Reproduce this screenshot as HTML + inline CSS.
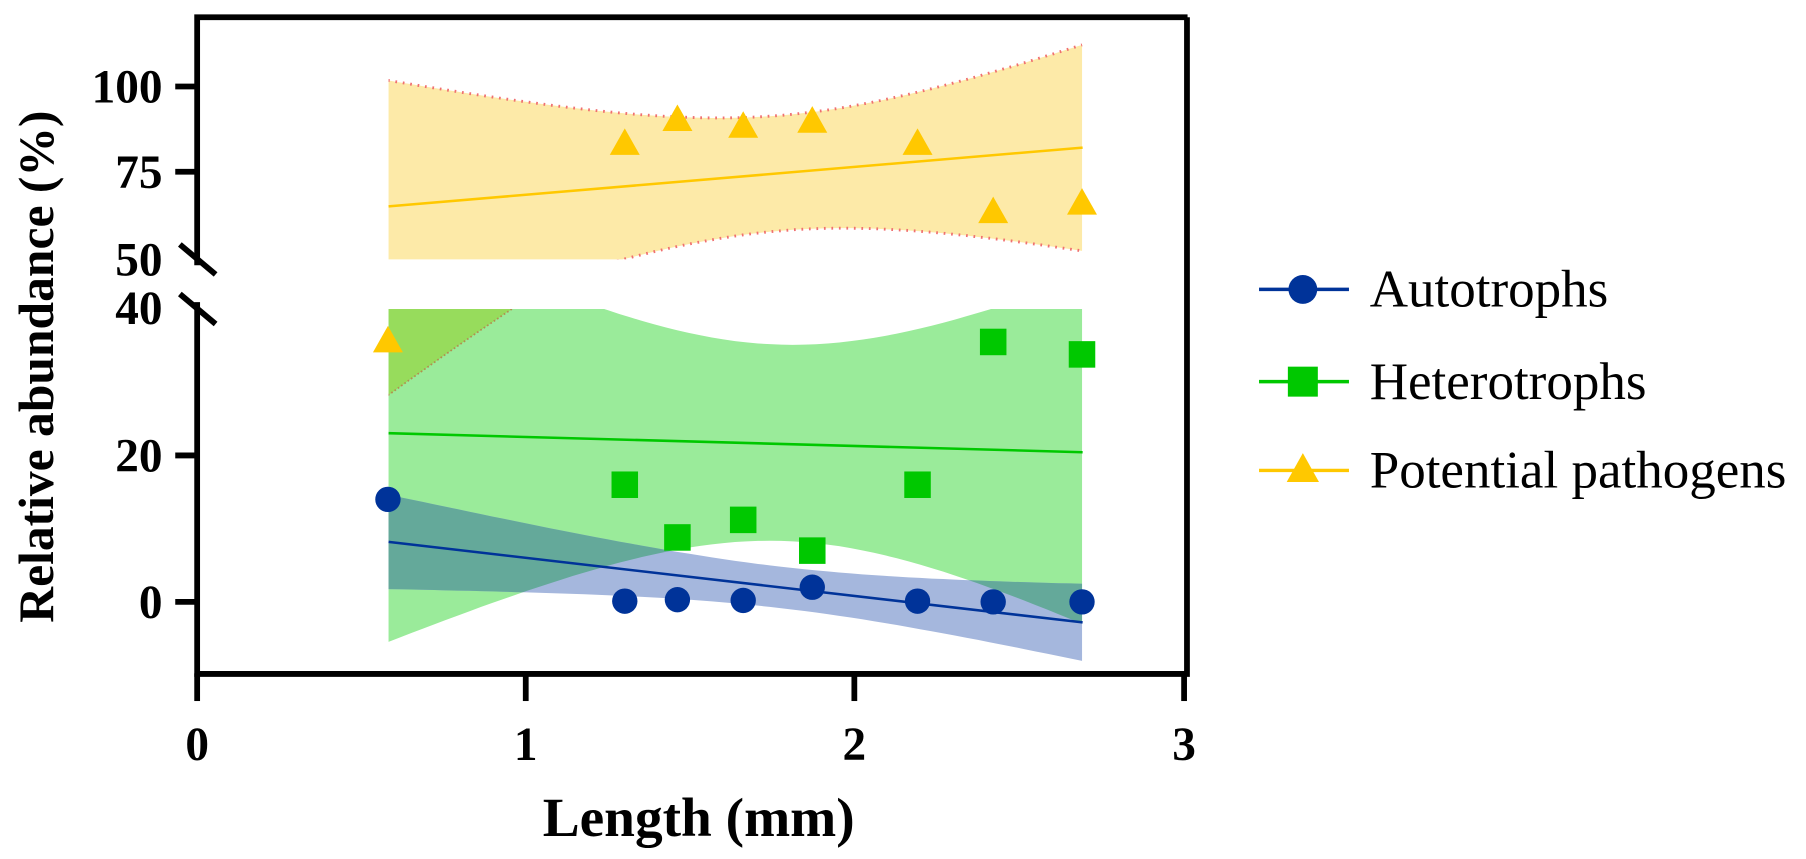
<!DOCTYPE html>
<html><head><meta charset="utf-8"><style>html,body{margin:0;padding:0;background:#fff}svg{display:block}</style></head>
<body>
<svg id="s" width="1806" height="859" viewBox="0 0 1566.4 745" preserveAspectRatio="none" xmlns="http://www.w3.org/2000/svg" font-family="Liberation Serif, serif">
<defs>
<clipPath id="cl"><rect x="337" y="268" width="602" height="330"/></clipPath>
<clipPath id="cu"><rect x="337" y="20" width="602" height="205"/></clipPath>
<clipPath id="cg"><path id="gclip"/></clipPath>
<clipPath id="cy"><path id="yclip"/></clipPath>
</defs>
<g clip-path="url(#cu)"><path id="yband" fill="#fdeaa8"/></g>
<g clip-path="url(#cl)">
<path id="gband" fill="#9aeb9a"/>
<g clip-path="url(#cy)"><rect x="337" y="268" width="602" height="330" fill="#97dc5c"/></g>
<path id="bband" fill="#a5b7dd"/>
<g clip-path="url(#cg)"><path id="bband2" fill="#64a99a"/></g>
<path id="ylow" fill="none" stroke="#b09050" stroke-width="1.5" stroke-dasharray="1.5 2"/>
</g>
<g clip-path="url(#cu)"><path id="yup" fill="none" stroke="#f07070" stroke-width="2.5" stroke-dasharray="1.5 5"/><path id="ylo" fill="none" stroke="#f07070" stroke-width="2.5" stroke-dasharray="1.5 5"/></g>
<line x1="337" y1="179" x2="939" y2="128" stroke="#ffc800" stroke-width="2.2"/>
<line x1="337" y1="375.7" x2="939" y2="392.2" stroke="#00c800" stroke-width="2.2"/>
<line x1="337" y1="470" x2="939" y2="539.8" stroke="#003399" stroke-width="2.2"/>
<g id="pts"></g>
<g stroke="#000" stroke-width="5" fill="none">
<path d="M171 230 V15 H1030"/>
<path d="M171 262 V584.5 H1029.5 V15"/>
<line x1="152" y1="75" x2="171" y2="75"/><line x1="152" y1="149" x2="171" y2="149"/>
<line x1="156" y1="212" x2="187" y2="238"/><line x1="156" y1="255" x2="187" y2="281"/>
<line x1="152" y1="395" x2="171" y2="395"/><line x1="152" y1="522" x2="171" y2="522"/>
<line x1="171" y1="584" x2="171" y2="608"/><line x1="456" y1="584" x2="456" y2="608"/><line x1="741" y1="584" x2="741" y2="608"/><line x1="1027" y1="584" x2="1027" y2="608"/>
</g>
<g font-weight="bold" font-size="41" text-anchor="end">
<text x="141" y="89">100</text><text x="141" y="163">75</text><text x="141" y="239">50</text><text x="141" y="281">40</text><text x="141" y="409">20</text><text x="141" y="536">0</text>
</g>
<g font-weight="bold" font-size="41" text-anchor="middle">
<text x="171" y="659">0</text><text x="456" y="659">1</text><text x="741" y="659">2</text><text x="1027" y="659">3</text>
</g>
<text x="606" y="725" font-weight="bold" font-size="48" text-anchor="middle">Length (mm)</text>
<text transform="translate(46,318) rotate(-90)" font-weight="bold" font-size="43" text-anchor="middle">Relative abundance (%)</text>
<line x1="1092" y1="251" x2="1170" y2="251" stroke="#003399" stroke-width="3"/><circle cx="1130" cy="251" r="12.5" fill="#003399"/>
<text x="1188" y="266" font-size="46">Autotrophs</text>
<line x1="1092" y1="331" x2="1170" y2="331" stroke="#00c800" stroke-width="3"/><rect x="1117" y="318" width="26" height="26" fill="#00c800"/>
<text x="1188" y="346" font-size="46">Heterotrophs</text>
<line x1="1092" y1="408" x2="1170" y2="408" stroke="#ffc800" stroke-width="3"/><path d="M1130 393 L1144 418 L1116 418Z" fill="#ffc800"/>
<text x="1188" y="423" font-size="46">Potential pathogens</text>
</svg>
<script>
var X=function(x){return 171+285.3*x},YL=function(v){return 522-6.35*v},YU=function(v){return 223-2.96*(v-50)};
function band(a,b,h0,k,Y){var up=[],lo=[];for(var i=0;i<=60;i++){var x=0.58+(2.69-0.58)*i/60;var m=a+b*(x-0.58);var h=Math.sqrt(h0*h0+k*(x-1.775)*(x-1.775));up.push(X(x).toFixed(1)+' '+Y(m+h).toFixed(1));lo.push(X(x).toFixed(1)+' '+Y(m-h).toFixed(1));}
return {area:'M'+up.join(' L')+' L'+lo.reverse().join(' L')+'Z',up:'M'+up.join(' L'),lo:'M'+lo.reverse().join(' L')};}
var yb=band(65,8.06,16.9,748,YU),gb=band(23.2,-1.23,13.4,451,YL),bb=band(8.2,-5.21,2.83,23.6,YL);
function s(id,d){document.getElementById(id).setAttribute('d',d)}
s('yband',yb.area);s('yup',yb.up);s('ylo',yb.lo);
s('gband',gb.area);s('gclip',gb.area);s('bband',bb.area);s('bband2',bb.area);
var yl=band(65,8.06,16.9,748,YL);s('yclip',yl.area);s('ylow',yl.lo);
var xs=[0.58,1.3,1.46,1.66,1.87,2.19,2.42,2.69];
var A=[14,0.1,0.3,0.2,2,0.1,0,0],H=[null,16,8.8,11.2,7,16,35.5,33.8],P=[35.5,83,90,88,89.5,83,63,65.5];
var g='';
for(var i=0;i<8;i++){var x=X(xs[i]);
var py=P[i]>45?YU(P[i]):YL(P[i]);g+='<path d="M'+x+' '+(py-14)+' L'+(x+13)+' '+(py+9)+' L'+(x-13)+' '+(py+9)+'Z" fill="#ffc800"/>';
if(H[i]!=null)g+='<rect x="'+(x-11.5)+'" y="'+(YL(H[i])-11.5)+'" width="23" height="23" fill="#00c800"/>';
g+='<circle cx="'+x+'" cy="'+YL(A[i])+'" r="11" fill="#003399"/>';}
document.getElementById('pts').innerHTML=g;
</script>
</body></html>
